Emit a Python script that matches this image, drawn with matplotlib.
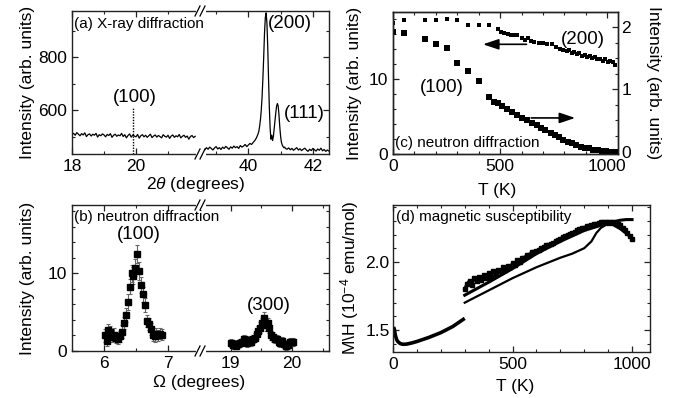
import numpy as np
import matplotlib
matplotlib.use("Agg")
import matplotlib.pyplot as plt
from matplotlib.lines import Line2D
from matplotlib.ticker import MultipleLocator, FixedLocator, FormatStrFormatter

plt.rcParams['font.family'] = ['Liberation Sans', 'DejaVu Sans']
plt.rcParams['mathtext.fontset'] = 'custom'
plt.rcParams['mathtext.rm'] = 'Liberation Sans'
plt.rcParams['mathtext.it'] = 'Liberation Sans:italic'

# ---------------- data ----------------
# (a) X-ray diffraction
xrd_left_y = [508, 512, 505, 515, 509, 503, 511, 506, 514, 500, 507, 510, 502, 509, 505, 512,
              498, 507, 503, 510, 506, 499, 508, 504, 511, 497, 505, 509, 501, 506, 503, 512,
              500, 507, 495, 504, 510, 498, 506, 502, 499, 508, 494, 503, 507, 499, 505, 497,
              503, 509, 496, 502, 506, 498, 504, 500, 495, 507, 501, 498, 505, 493, 502, 506,
              497, 503, 499, 508, 495, 501, 505, 497, 502, 490, 500, 504, 496, 501]
xrd_pre_y = [450, 458, 452, 460, 455, 449, 457, 462, 453, 458, 451, 460, 455, 463, 457, 452, 461,
             456, 464, 458, 462, 455, 466, 460, 464, 470, 462, 468, 474, 470, 478, 485, 495, 510]
xrd_peak_y = [520, 540, 565, 600, 650, 720, 800, 890, 950, 968, 930, 840, 720, 610, 530, 490, 505,
              485, 500, 530, 560, 590, 615, 625, 615, 580, 535, 500, 478, 468, 462, 458, 460, 455]
xrd_post_y = [452, 457, 450, 455, 448, 453, 458, 449, 454, 447, 452, 456, 449, 444, 452, 447, 455,
              450, 445, 453, 448, 456, 446, 451, 444, 449, 445]

# (b) neutron diffraction, (100) and (300)
nd100_x = [6.01, 6.04, 6.07, 6.10, 6.13, 6.16, 6.19, 6.22, 6.25, 6.28, 6.31, 6.34, 6.37, 6.40,
           6.43, 6.46, 6.49, 6.52, 6.55, 6.58, 6.61, 6.64, 6.67, 6.70, 6.73, 6.76, 6.79, 6.82,
           6.85, 6.88, 6.91]
nd100_y = [2.0, 1.3, 2.7, 2.4, 1.8, 2.1, 1.7, 1.6, 1.9, 2.5, 3.6, 4.6, 6.3, 8.3, 10.0, 9.7, 10.7,
           12.5, 10.3, 8.5, 7.3, 5.9, 3.9, 3.5, 2.8, 2.0, 1.9, 2.2, 2.0, 2.2, 2.1]
nd100_e = [0.8, 0.7, 0.8, 0.8, 0.7, 0.8, 0.7, 0.7, 0.7, 0.8, 0.8, 0.9, 1.0, 1.0, 1.1, 1.1, 1.1,
           1.2, 1.1, 1.0, 1.0, 0.9, 0.8, 0.8, 0.8, 0.7, 0.7, 0.7, 0.7, 0.7, 0.7]
nd300_x = [19.00, 19.03, 19.06, 19.09, 19.12, 19.15, 19.18, 19.21, 19.24, 19.27, 19.30, 19.33,
           19.36, 19.39, 19.42, 19.45, 19.48, 19.51, 19.54, 19.57, 19.60, 19.63, 19.66, 19.69,
           19.72, 19.75, 19.78, 19.81, 19.84, 19.87, 19.90, 19.93, 19.96, 19.99, 20.02]
nd300_y = [1.0, 0.8, 0.9, 0.7, 0.9, 1.0, 1.1, 1.5, 1.3, 1.0, 1.4, 1.2, 1.5, 1.7, 2.2, 2.6, 3.0,
           3.6, 4.2, 3.3, 3.6, 3.0, 2.0, 1.8, 1.5, 1.6, 1.2, 1.0, 1.3, 0.9, 0.6, 0.8, 1.2, 1.1, 1.2]
nd300_e = [0.5, 0.5, 0.5, 0.5, 0.5, 0.5, 0.5, 0.5, 0.5, 0.5, 0.5, 0.5, 0.5, 0.6, 0.6, 0.6, 0.7,
           0.7, 0.8, 0.7, 0.7, 0.7, 0.6, 0.6, 0.5, 0.5, 0.5, 0.5, 0.5, 0.5, 0.5, 0.5, 0.5, 0.5, 0.5]

# (c) neutron diffraction vs T
T200 = [0, 50, 150, 200, 250, 300, 350, 400, 450, 490, 505, 520, 535, 550, 565, 580, 600, 615,
        630, 645, 660, 680, 700, 720, 740, 760, 780, 795, 810, 822, 834, 846, 858, 870, 882, 894,
        906, 918, 930, 942, 954, 966, 978, 990, 1002, 1014, 1026, 1038]
I200 = [17.4, 17.9, 17.9, 17.8, 18.0, 17.9, 17.2, 17.2, 17.2, 16.6, 16.3, 16.1, 16.0, 15.9, 15.8,
        15.8, 15.5, 15.2, 15.4, 15.0, 14.9, 14.8, 14.8, 14.7, 14.6, 14.3, 14.0, 13.9, 13.7, 13.8,
        13.5, 13.6, 13.3, 13.4, 13.1, 13.2, 12.9, 13.0, 12.8, 12.9, 12.6, 12.7, 12.4, 12.6, 12.3,
        12.4, 12.2, 11.9]
T100 = [0, 50, 150, 200, 250, 300, 350, 400, 450, 470, 490, 510, 530, 555, 580, 600, 625, 650,
        670, 690, 710, 735, 755, 775, 795, 815, 835, 855, 875, 895, 915, 935, 955, 975, 995, 1015,
        1035]
I100 = [1.92, 1.91, 1.81, 1.72, 1.67, 1.42, 1.29, 1.13, 0.87, 0.80, 0.78, 0.73, 0.69, 0.64, 0.58,
        0.54, 0.50, 0.46, 0.42, 0.37, 0.34, 0.30, 0.26, 0.23, 0.18, 0.15, 0.13, 0.10, 0.08, 0.06,
        0.05, 0.03, 0.02, 0.01, 0.01, 0.0, 0.0]

# (d) magnetic susceptibility
Tlow = [2, 5, 10, 15, 20, 30, 40, 50, 60, 80, 100, 150, 200, 250, 300]
chi_low = [1.52, 1.51, 1.46, 1.43, 1.415, 1.40, 1.395, 1.395, 1.397, 1.405, 1.415, 1.445, 1.48,
           1.525, 1.585]
TA = [300, 310, 320, 330, 340, 350, 360, 370, 380, 390, 400, 410, 420, 430, 440, 450, 460, 470,
      480, 490, 500, 510, 520, 530, 540, 550, 560, 570, 580, 590, 600, 610, 620, 630, 640, 650,
      660, 670, 680, 690, 700, 710, 720, 730, 740, 750, 760, 770, 780, 790, 800, 810, 820, 830,
      840, 850, 860, 870, 880, 890, 900, 910, 920, 930, 940, 950, 960, 970, 980, 990, 1000]
chiA = [1.80, 1.84, 1.86, 1.83, 1.88, 1.86, 1.89, 1.87, 1.90, 1.88, 1.92, 1.89, 1.93, 1.91, 1.94,
        1.93, 1.96, 1.94, 1.97, 1.96, 1.99, 1.98, 2.01, 2.00, 2.03, 2.03, 2.05, 2.05, 2.07, 2.07,
        2.08, 2.09, 2.10, 2.11, 2.12, 2.12, 2.13, 2.14, 2.15, 2.16, 2.17, 2.18, 2.19, 2.20, 2.205,
        2.21, 2.22, 2.23, 2.24, 2.245, 2.25, 2.26, 2.265, 2.27, 2.275, 2.28, 2.285, 2.29, 2.29,
        2.29, 2.29, 2.29, 2.29, 2.285, 2.28, 2.27, 2.25, 2.23, 2.21, 2.19, 2.17]
TB = [300, 400, 500, 600, 700, 800, 900, 950, 975, 1000]
chiB = [1.755, 1.85, 1.95, 2.06, 2.15, 2.23, 2.285, 2.305, 2.31, 2.31]
TC = [300, 400, 500, 600, 700, 750, 800, 830, 850, 870, 890, 920, 950, 980, 1000]
chiC = [1.70, 1.79, 1.88, 1.96, 2.03, 2.06, 2.10, 2.15, 2.21, 2.25, 2.27, 2.27, 2.24, 2.20, 2.17]

# ---------------- layout helpers ----------------
W, H = 678, 398
fig = plt.figure(figsize=(W / 100, H / 100), dpi=100)


def rect(l, t, r, b):
    return [l / W, 1 - b / H, (r - l) / W, (b - t) / H]


def fx(px):
    return px / W


def fy(py):
    return 1 - py / H


TICK = 12.5
LAB = 12.5
PEAK = 13.5
TITLE = 11
SPCOL = '#222222'


def style(ax, **kw):
    for s in ax.spines.values():
        s.set_linewidth(1.0)
        s.set_color(SPCOL)
    ax.tick_params(which='both', direction='in', labelsize=TICK, colors=SPCOL,
                   labelcolor='black', **kw)
    ax.tick_params(which='major', length=4, width=0.9)
    ax.tick_params(which='minor', length=2.5, width=0.8)
    ax.tick_params(axis='x', which='both', pad=3.8)
    ax.tick_params(axis='y', which='both', pad=3.5)


def brk(px, py):
    fig.add_artist(Line2D([fx(px - 3.5), fx(px + 3.5)], [fy(py), fy(py)],
                          transform=fig.transFigure, color='white', lw=2.2, zorder=20))
    for off in (-2.5, 2.5):
        fig.add_artist(Line2D([fx(px + off - 2.5), fx(px + off + 2.5)], [fy(py + 5), fy(py - 5)],
                              transform=fig.transFigure, color='black', lw=0.9, zorder=21))


def ftext(px, py, s, size, **kw):
    kw.setdefault('ha', 'center')
    kw.setdefault('va', 'center')
    fig.text(fx(px), fy(py), s, fontsize=size, **kw)


# ---------------- (a) ----------------
a1 = fig.add_axes(rect(72, 11, 200, 154))
a2 = fig.add_axes(rect(200, 11, 329, 154))
xl = np.linspace(18.0, 21.85, len(xrd_left_y))
a1.plot(xl, xrd_left_y, color='black', lw=0.9)
xr = np.concatenate([np.linspace(38.65, 40.30, len(xrd_pre_y)),
                     np.linspace(40.325, 41.15, len(xrd_peak_y)),
                     np.linspace(41.2, 42.5, len(xrd_post_y))])
a2.plot(xr, xrd_pre_y + xrd_peak_y + xrd_post_y, color='black', lw=0.9)
a1.plot([19.9, 19.9], [434, 610], color='black', lw=1.0, ls=(0, (1, 1)))
for ax in (a1, a2):
    ax.set_ylim(434, 975)
    ax.yaxis.set_major_locator(FixedLocator([600, 800]))
    ax.yaxis.set_minor_locator(MultipleLocator(100))
a1.set_xlim(18, 22)
a1.xaxis.set_major_locator(FixedLocator([18, 20]))
a1.xaxis.set_minor_locator(FixedLocator([19, 21]))
a2.set_xlim(38.5, 42.5)
a2.xaxis.set_major_locator(FixedLocator([40, 42]))
a2.xaxis.set_minor_locator(FixedLocator([39, 41]))
style(a1, top=True, right=False)
style(a2, top=True, right=True, left=False, labelleft=False)
a1.spines['right'].set_visible(False)
a2.spines['left'].set_visible(False)
ftext(74, 24, '(a) X-ray diffraction', TITLE, ha='left')
ftext(135, 97, '(100)', PEAK)
ftext(290, 24, '(200)', PEAK)
ftext(304, 113, '(111)', PEAK)
ftext(28, 82.5, 'Intensity (arb. units)', LAB, rotation=90)
ftext(196, 185, r'2$\it{\theta}$ (degrees)', LAB)
brk(200, 11)
brk(200, 154)

# ---------------- (b) ----------------
b1 = fig.add_axes(rect(72, 205, 200, 351))
b2 = fig.add_axes(rect(200, 205, 329, 351))
b1.errorbar(nd100_x, nd100_y, yerr=nd100_e, fmt='s', color='black', ms=3.8,
            ecolor='#666666', elinewidth=0.8, capsize=1.5, capthick=0.8)
b2.errorbar(nd300_x, nd300_y, yerr=nd300_e, fmt='s', color='black', ms=3.8,
            ecolor='#666666', elinewidth=0.8, capsize=1.5, capthick=0.8)
for ax in (b1, b2):
    ax.set_ylim(0, 18.8)
    ax.yaxis.set_major_locator(FixedLocator([0, 10]))
    ax.yaxis.set_minor_locator(MultipleLocator(2))
b1.set_xlim(5.5, 7.5)
b1.xaxis.set_major_locator(FixedLocator([6, 7]))
b1.xaxis.set_minor_locator(FixedLocator([5.5, 6.5]))
b2.set_xlim(18.5, 20.6)
b2.xaxis.set_major_locator(FixedLocator([19, 20]))
b2.xaxis.set_minor_locator(FixedLocator([19.5, 20.5]))
style(b1, top=True, right=False)
style(b2, top=True, right=True, left=False, labelleft=False)
b1.spines['right'].set_visible(False)
b2.spines['left'].set_visible(False)
ftext(74, 217, '(b) neutron diffraction', TITLE, ha='left')
ftext(139, 235, '(100)', PEAK)
ftext(269, 305, '(300)', PEAK)
ftext(28, 278, 'Intensity (arb. units)', LAB, rotation=90)
ftext(199, 382, '\u03a9 (degrees)', LAB)
brk(200, 205)
brk(200, 351)

# ---------------- (c) ----------------
c = fig.add_axes(rect(393, 12, 618, 154))
c2 = c.twinx()
c.plot(T200, I200, 's', color='black', ms=3.3, mew=0)
c2.plot(T100, I100, 's', color='black', ms=3.8, mew=0)
c.set_xlim(0, 1050)
c.set_ylim(0, 18.9)
c2.set_ylim(-0.04, 2.24)
c.xaxis.set_major_locator(FixedLocator([0, 500, 1000]))
c.xaxis.set_minor_locator(MultipleLocator(100))
c.yaxis.set_major_locator(FixedLocator([0, 10]))
c.yaxis.set_minor_locator(MultipleLocator(2))
c2.yaxis.set_major_locator(FixedLocator([0, 1, 2]))
c2.yaxis.set_minor_locator(MultipleLocator(0.25))
style(c, top=True, right=False)
style(c2, right=True, left=False)
c2.tick_params(axis='y', which='both', pad=2.5)
ftext(355, 83, 'Intensity (arb. units)', LAB, rotation=90)
ftext(654, 83, 'Intensity (arb. units)', LAB, rotation=270)
ftext(497, 191, 'T (K)', LAB)
arrow_style = '-|>,head_length=0.95,head_width=0.32'
c.annotate('', xy=(420, 14.6), xytext=(623, 14.6),
           arrowprops=dict(arrowstyle=arrow_style, color='black',
                           lw=1.2, mutation_scale=10, shrinkA=0, shrinkB=0))
c.annotate('', xy=(850, 4.8), xytext=(645, 4.8),
           arrowprops=dict(arrowstyle=arrow_style, color='black',
                           lw=1.2, mutation_scale=10, shrinkA=0, shrinkB=0))
ftext(583, 40, '(200)', PEAK)
ftext(442, 88, '(100)', PEAK)
ftext(395, 143, '(c) neutron diffraction', TITLE, ha='left')

# ---------------- (d) ----------------
d = fig.add_axes(rect(393, 205, 650, 352))
d.plot(Tlow, chi_low, color='black', lw=2.6, solid_capstyle='butt')
d.plot(TC, chiC, color='black', lw=1.6)
d.plot(TB, chiB, color='black', lw=2.2)
d.plot(TA, chiA, color='black', lw=2.2, marker='s', ms=2.2)
d.set_xlim(0, 1075)
d.set_ylim(1.338, 2.417)
d.xaxis.set_major_locator(FixedLocator([0, 500, 1000]))
d.xaxis.set_minor_locator(MultipleLocator(100))
d.yaxis.set_major_locator(FixedLocator([1.5, 2.0]))
d.yaxis.set_minor_locator(MultipleLocator(0.1))
d.yaxis.set_major_formatter(FormatStrFormatter('%.1f'))
style(d, top=True, right=True)
d.tick_params(axis='y', which='both', pad=2.5)
ftext(515, 387, 'T (K)', LAB)
ftext(350, 278, 'M$\\backslash$H (10$^{-4}$ emu/mol)', LAB, rotation=90)
ftext(396, 217, '(d) magnetic susceptibility', TITLE, ha='left')

fig.savefig('out.png', dpi=100)
